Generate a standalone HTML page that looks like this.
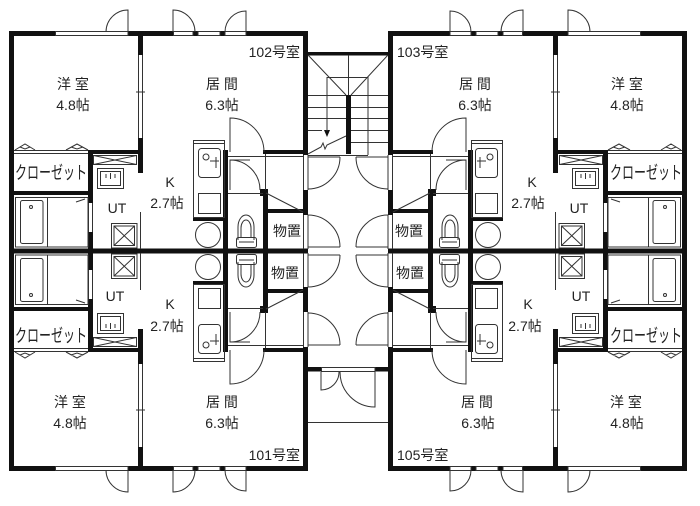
<!DOCTYPE html>
<html><head><meta charset="utf-8"><style>
html,body{margin:0;padding:0;background:#fff;}
svg{display:block;}
text{font-family:"Liberation Sans","Noto Sans CJK JP",sans-serif;font-size:14px;fill:#222;}
.c{text-anchor:middle;}
.cl{font-size:18px;}
</style></head><body>
<svg width="700" height="506" viewBox="0 0 700 506" xmlns="http://www.w3.org/2000/svg">
<defs>
<g id="Q">
 <g fill="#111">
  <rect x="9" y="31" width="46" height="5"/>
  <rect x="128" y="31" width="45" height="5"/>
  <rect x="193" y="31" width="5" height="5"/>
  <rect x="220" y="31" width="5" height="5"/>
  <rect x="246" y="31" width="62" height="5"/>
  <rect x="9" y="31" width="5" height="220"/>
  <rect x="138" y="31" width="5" height="24"/>
  <rect x="138" y="138" width="5" height="35"/>
  <rect x="303" y="31" width="5" height="124"/>
  <rect x="303" y="190" width="5" height="25"/>
  <rect x="9" y="248.5" width="299" height="2.5"/>
  <rect x="9" y="191" width="84" height="4"/>
  <rect x="88" y="150" width="5" height="53"/>
  <rect x="88" y="232" width="5" height="19"/>
  <rect x="88" y="150" width="55" height="4"/>
  <rect x="193" y="217" width="32" height="4"/>
  <rect x="223" y="150" width="5" height="101"/>
  <rect x="263" y="150" width="45" height="4"/>
  <rect x="260" y="189" width="8" height="7"/>
  <rect x="263" y="190" width="5" height="61"/>
  <rect x="268" y="209" width="40" height="4"/>
 </g>
 <g fill="none" stroke="#333" stroke-width="1">
  <rect x="55.5" y="31.5" width="72.5" height="4"/>
  <rect x="173.5" y="31.5" width="19.5" height="4"/>
  <rect x="198" y="31.5" width="22" height="4"/>
  <rect x="225" y="31.5" width="21" height="4"/>
  <path d="M128,32 V10 A22,22 0 0 0 106,32"/>
  <path d="M173,32 V10 A22,22 0 0 1 195,32"/>
  <path d="M246,32 V11 A21,21 0 0 0 225,32"/>
  <path d="M138.5,55 V138 M142.5,55 V138 M136,92 H145"/>
  <path d="M140.5,212 V249"/>
  <path d="M303.5,155 V190 M308,155 V190 M303.5,215 V249 M308,215 V249"/>
  <path d="M14,150.5 H88 M14,153.5 H88"/>
  <path d="M15,150 L25,144 L35,150 M20,147 L25,149 L30,147 M66,150 L77,144 L88,150 M71,147 L77,149 L83,147"/>
  <path d="M88.5,203 V232 M92.5,203 V232"/>
  <rect x="93.5" y="155.5" width="43" height="9"/>
  <path d="M93.5,155.5 L136.5,164.5 M136.5,155.5 L93.5,164.5"/>
  <rect x="97.5" y="168.5" width="26" height="20"/>
  <rect x="100.5" y="171.5" width="20" height="14"/>
  <path d="M106,174 v4 M110.5,173 v6 M115,174 v4"/>
  <rect x="111.5" y="223.5" width="25.5" height="24.5"/>
  <rect x="114" y="226" width="20.5" height="19.5"/>
  <path d="M114,226 L134.5,245.5 M134.5,226 L114,245.5"/>
  <rect x="15.5" y="197.5" width="72.5" height="49.5"/>
  <rect x="20.5" y="200.5" width="22.5" height="43" rx="2"/>
  <circle cx="31" cy="207" r="1.5"/>
  <path d="M47.5,197.5 V247 M76,202 L85,199"/>
  <rect x="193.5" y="140.5" width="31" height="77"/>
  <path d="M193.5,143.5 H224.5"/>
  <rect x="198.5" y="148.5" width="22" height="29" rx="3"/>
  <circle cx="206" cy="157" r="3"/>
  <path d="M210,161 H219 M216,157 V168"/>
  <rect x="198.5" y="193.5" width="22" height="20"/>
  <circle cx="208" cy="235" r="12.5"/>
  <path d="M230,152 V118 A34,34 0 0 1 264,152"/>
  <path d="M228,156.5 H303 M228,193.5 H263 M265.5,154 V190"/>
  <path d="M230,190 V160 A30,30 0 0 1 260,190 M230,160 H250"/>
  <path d="M266,193 L303,212"/>
  <path d="M238,240 V227 A8,12 0 0 1 254,227 V240"/>
  <path d="M241,238 V228 A5,8 0 0 1 251,228 V238"/>
  <rect x="236.5" y="237.5" width="20" height="10" rx="2"/>
  <path d="M239,242 H254"/>
  <path d="M340,157 A32,32 0 0 1 308,189 M308,157 H340"/>
  <path d="M308,215 A32,32 0 0 1 340,247 M308,247 H340"/>
 </g>
</g>
</defs>
<use href="#Q"/>
<use href="#Q" transform="matrix(-1 0 0 1 696 0)"/>
<use href="#Q" transform="matrix(1 0 0 -1 0 502)"/>
<use href="#Q" transform="matrix(-1 0 0 -1 696 502)"/>

<!-- stairs -->
<g fill="#111">
 <rect x="303" y="52" width="90" height="3.5"/>
 <rect x="346" y="95" width="5" height="59"/>
 <polygon points="324,130 330,130 327,137"/>
</g>
<g fill="none" stroke="#333" stroke-width="1">
 <path d="M308,55 L346,95 M388,55 L351,95 M348.5,55 V95"/>
 <path d="M327,77.5 H368 M368,77 V155 M327,77 V131"/>
 <path d="M308,95.5 H346 M308,107.5 H346 M308,118.5 H346 M308,130.5 H322"/>
 <path d="M351,95.5 H388 M351,107.5 H388 M351,118.5 H388 M351,130.5 H388 M351,142.5 H388"/>
 <path d="M308,154 L321,147 L323,143 L325,149 L327,145 L346,136"/>
 <path d="M308,155.5 H368"/>
</g>

<!-- entrance -->
<g fill="#111">
 <rect x="303" y="367" width="19" height="4.5"/>
 <rect x="375" y="367" width="18" height="4.5"/>
</g>
<g fill="none" stroke="#333" stroke-width="1">
 <rect x="321.5" y="367.5" width="53.5" height="4"/>
 <path d="M339,372 A18,18 0 0 1 321,390 V372"/>
 <path d="M340,372 A35,35 0 0 0 375,407 V372"/>
 <path d="M308,422.5 H388"/>
</g>

<!-- labels top-left 102 -->
<text class="c" x="73" y="89">洋 室</text>
<text class="c" x="73" y="110">4.8帖</text>
<text class="c" x="222" y="89">居 間</text>
<text class="c" x="222" y="110">6.3帖</text>
<text x="300" y="57" text-anchor="end">102号室</text>
<text class="c" x="170" y="187">K</text>
<text class="c" x="167" y="208">2.7帖</text>
<text class="c" x="117" y="213">UT</text>
<text class="c cl" x="51" y="179" textLength="72" lengthAdjust="spacingAndGlyphs">クローゼット</text>
<text class="c" x="287" y="236">物置</text>

<!-- labels bottom-left 101 -->
<text class="c" x="70" y="407">洋 室</text>
<text class="c" x="70" y="428">4.8帖</text>
<text class="c" x="222" y="407">居 間</text>
<text class="c" x="222" y="428">6.3帖</text>
<text x="300" y="460" text-anchor="end">101号室</text>
<text class="c" x="170" y="309">K</text>
<text class="c" x="167" y="331">2.7帖</text>
<text class="c" x="115" y="301">UT</text>
<text class="c cl" x="51" y="342" textLength="72" lengthAdjust="spacingAndGlyphs">クローゼット</text>
<text class="c" x="285" y="278">物置</text>

<!-- labels top-right 103 -->
<text class="c" x="627" y="89">洋 室</text>
<text class="c" x="627" y="110">4.8帖</text>
<text class="c" x="475" y="89">居 間</text>
<text class="c" x="475" y="110">6.3帖</text>
<text x="397" y="57">103号室</text>
<text class="c" x="532" y="187">K</text>
<text class="c" x="528" y="208">2.7帖</text>
<text class="c" x="579" y="213">UT</text>
<text class="c cl" x="646" y="179" textLength="72" lengthAdjust="spacingAndGlyphs">クローゼット</text>
<text class="c" x="409" y="236">物置</text>

<!-- labels bottom-right 105 -->
<text class="c" x="626" y="407">洋 室</text>
<text class="c" x="627" y="428">4.8帖</text>
<text class="c" x="477" y="407">居 間</text>
<text class="c" x="478" y="428">6.3帖</text>
<text x="397" y="460">105号室</text>
<text class="c" x="528" y="309">K</text>
<text class="c" x="525" y="331">2.7帖</text>
<text class="c" x="581" y="301">UT</text>
<text class="c cl" x="646" y="342" textLength="72" lengthAdjust="spacingAndGlyphs">クローゼット</text>
<text class="c" x="410" y="278">物置</text>
</svg>
</body></html>
